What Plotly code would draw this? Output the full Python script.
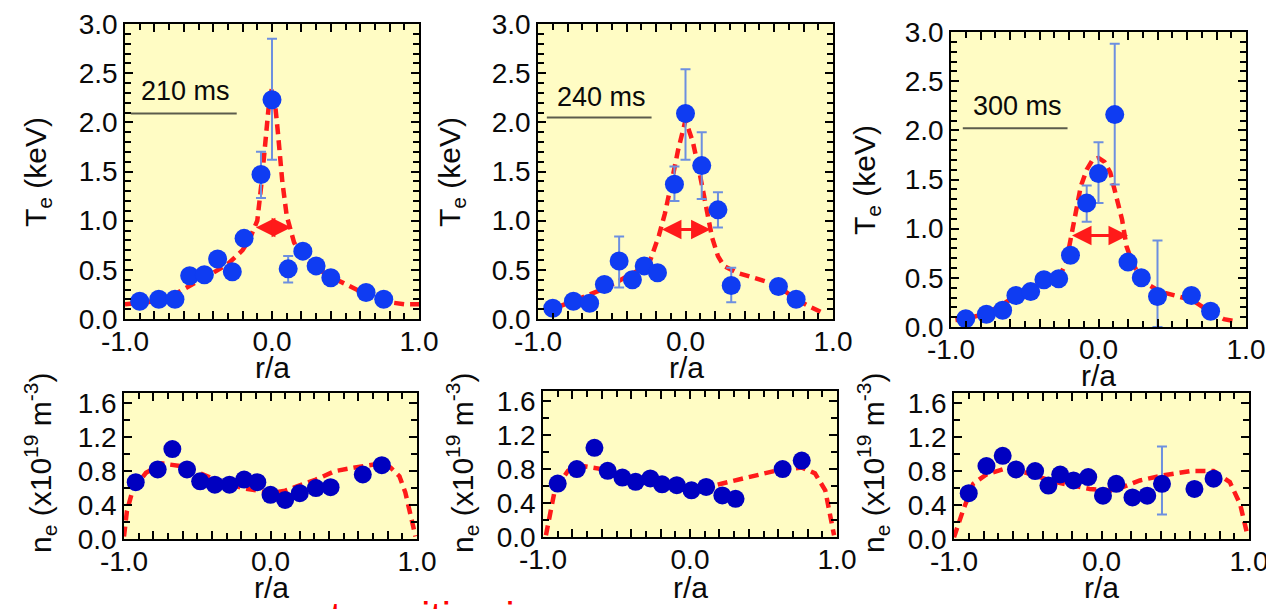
import plotly.graph_objects as go

# ---------------- data ----------------
x_tick_vals = [-1.0, -0.8, -0.6, -0.4, -0.2, 0.0, 0.2, 0.4, 0.6, 0.8, 1.0]
x_tick_text = ["-1.0", "", "", "", "", "0.0", "", "", "", "", "1.0"]
te_tick_vals = [0.0, 0.5, 1.0, 1.5, 2.0, 2.5, 3.0]
te_tick_text = ["0.0", "0.5", "1.0", "1.5", "2.0", "2.5", "3.0"]
ne_tick_vals = [0.0, 0.4, 0.8, 1.2, 1.6]
ne_tick_text = ["0.0", "0.4", "0.8", "1.2", "1.6"]

times = ["210 ms", "240 ms", "300 ms"]

# Te measured, 210 ms
te210_r = [-0.90, -0.77, -0.66, -0.56, -0.46, -0.37, -0.27, -0.19, -0.075, 0.0, 0.11, 0.21, 0.30, 0.40, 0.64, 0.76]
te210 = [0.18, 0.20, 0.20, 0.44, 0.45, 0.61, 0.48, 0.82, 1.47, 2.23, 0.51, 0.69, 0.54, 0.42, 0.27, 0.20]
te210_ep = [0, 0, 0, 0, 0, 0, 0, 0, 0.23, 0.62, 0.13, 0, 0, 0, 0, 0]
te210_em = [0, 0, 0, 0, 0, 0, 0, 0, 0.24, 0.61, 0.14, 0, 0, 0, 0, 0]
# Te measured, 240 ms
te240_r = [-0.90, -0.76, -0.65, -0.55, -0.45, -0.36, -0.28, -0.19, -0.075, 0.0, 0.11, 0.22, 0.31, 0.63, 0.75]
te240 = [0.11, 0.18, 0.16, 0.35, 0.59, 0.40, 0.54, 0.47, 1.37, 2.09, 1.56, 1.11, 0.34, 0.33, 0.20]
te240_ep = [0, 0, 0, 0, 0.25, 0, 0, 0, 0.18, 0.45, 0.34, 0.18, 0.18, 0, 0]
te240_em = [0, 0, 0, 0, 0.27, 0, 0, 0, 0.17, 0.47, 0.34, 0.18, 0.17, 0, 0]
# Te measured, 300 ms
te300_r = [-0.90, -0.76, -0.65, -0.56, -0.46, -0.37, -0.27, -0.19, -0.08, 0.0, 0.11, 0.20, 0.29, 0.40, 0.63, 0.76]
te300 = [0.085, 0.13, 0.17, 0.32, 0.36, 0.48, 0.49, 0.73, 1.26, 1.56, 2.16, 0.66, 0.50, 0.31, 0.32, 0.16]
te300_ep = [0, 0, 0, 0, 0, 0, 0, 0, 0.18, 0.32, 0.72, 0, 0, 0.57, 0.07, 0]
te300_em = [0, 0, 0, 0, 0, 0, 0, 0, 0.19, 0.30, 0.71, 0, 0, 0.31, 0.07, 0]

# Te fitted profiles (dashed red)
fit210_r = [-1.0, -0.9, -0.8, -0.7, -0.6, -0.5, -0.4, -0.3, -0.2, -0.15, -0.1, -0.07, -0.04, -0.02, 0.0,
            0.02, 0.04, 0.07, 0.1, 0.15, 0.2, 0.3, 0.4, 0.5, 0.6, 0.7, 0.8, 0.9, 1.0]
fit210 = [0.15, 0.16, 0.18, 0.22, 0.30, 0.38, 0.47, 0.56, 0.70, 0.82, 1.0, 1.4, 1.9, 2.2, 2.35,
          2.2, 1.9, 1.4, 1.05, 0.78, 0.64, 0.52, 0.43, 0.35, 0.28, 0.22, 0.17, 0.15, 0.15]
fit240_r = [-0.95, -0.85, -0.75, -0.65, -0.55, -0.45, -0.35, -0.25, -0.18, -0.14, -0.10, -0.05, 0.0,
            0.05, 0.10, 0.14, 0.18, 0.22, 0.26, 0.35, 0.45, 0.55, 0.65, 0.75, 0.85, 0.92]
fit240 = [0.07, 0.13, 0.19, 0.24, 0.31, 0.39, 0.47, 0.55, 0.85, 1.07, 1.35, 1.72, 2.02,
          1.80, 1.45, 1.15, 0.83, 0.64, 0.54, 0.47, 0.43, 0.38, 0.31, 0.20, 0.12, 0.07]
fit300_r = [-0.97, -0.88, -0.78, -0.68, -0.58, -0.48, -0.40, -0.32, -0.26, -0.22, -0.19, -0.15, -0.12, -0.08,
            -0.04, 0.0, 0.04, 0.08, 0.12, 0.16, 0.19, 0.23, 0.28, 0.35, 0.42, 0.53, 0.64, 0.76, 0.85, 0.92]
fit300 = [0.07, 0.09, 0.13, 0.20, 0.30, 0.37, 0.44, 0.49, 0.53, 0.65, 0.88, 1.20, 1.43, 1.60,
          1.70, 1.72, 1.68, 1.57, 1.35, 1.09, 0.82, 0.65, 0.52, 0.42, 0.36, 0.32, 0.27, 0.15, 0.08, 0.06]

# width arrows (r/a start, r/a end, Te level)
arrow_r0 = [-0.12, -0.17, -0.19]
arrow_r1 = [0.13, 0.17, 0.20]
arrow_te = [0.93, 0.91, 0.93]

# ne measured
ne210_r = [-0.92, -0.77, -0.67, -0.57, -0.48, -0.38, -0.28, -0.18, -0.09, 0.0, 0.10, 0.20, 0.31, 0.41, 0.63, 0.76]
ne210 = [0.67, 0.82, 1.06, 0.82, 0.68, 0.64, 0.64, 0.70, 0.67, 0.52, 0.46, 0.54, 0.60, 0.61, 0.76, 0.87]
ne240_r = [-0.90, -0.77, -0.65, -0.56, -0.46, -0.37, -0.27, -0.19, -0.09, 0.01, 0.11, 0.22, 0.31, 0.63, 0.76]
ne240 = [0.63, 0.80, 1.05, 0.78, 0.70, 0.65, 0.69, 0.62, 0.61, 0.55, 0.59, 0.49, 0.45, 0.80, 0.90]
ne300_r = [-0.90, -0.78, -0.67, -0.58, -0.45, -0.36, -0.28, -0.19, -0.09, 0.01, 0.10, 0.21, 0.31, 0.41, 0.63, 0.76]
ne300 = [0.54, 0.86, 0.98, 0.82, 0.80, 0.63, 0.76, 0.69, 0.73, 0.51, 0.65, 0.49, 0.51, 0.65, 0.59, 0.71]
ne300_ep = [0, 0, 0, 0, 0, 0, 0, 0, 0, 0, 0, 0, 0, 0.44, 0, 0]
ne300_em = [0, 0, 0, 0, 0, 0, 0, 0, 0, 0, 0, 0, 0, 0.36, 0, 0]

# ne fitted profiles
fitn210_r = [-1.0, -0.98, -0.94, -0.85, -0.74, -0.58, -0.38, -0.19, 0.01, 0.10, 0.31, 0.44, 0.60, 0.76, 0.82, 0.88, 0.92, 0.95, 0.99]
fitn210 = [0.03, 0.33, 0.58, 0.78, 0.89, 0.85, 0.70, 0.60, 0.54, 0.57, 0.70, 0.80, 0.85, 0.89, 0.84, 0.74, 0.55, 0.35, 0.03]
fitn240_r = [-0.98, -0.95, -0.92, -0.83, -0.74, -0.60, -0.37, -0.19, 0.01, 0.22, 0.40, 0.58, 0.76, 0.85, 0.92, 0.95, 0.98]
fitn240 = [0.02, 0.31, 0.55, 0.78, 0.84, 0.80, 0.67, 0.60, 0.54, 0.63, 0.71, 0.78, 0.82, 0.75, 0.55, 0.31, 0.02]
fitn300_r = [-1.0, -0.94, -0.87, -0.78, -0.67, -0.51, -0.31, -0.08, 0.08, 0.26, 0.42, 0.60, 0.76, 0.87, 0.94, 0.99]
fitn300 = [0.02, 0.33, 0.65, 0.76, 0.82, 0.78, 0.67, 0.59, 0.57, 0.69, 0.75, 0.80, 0.80, 0.67, 0.41, 0.04]

# ---------------- styling ----------------
W, H = 1266, 609
FONT = "Liberation Sans, Arial, Helvetica, sans-serif"
BG = "#fffcc4"
TE_BLUE = "#0f3cf2"
NE_BLUE = "#0000c0"
ERR = "#6d8fe0"
RED = "#ff1a1a"
TXT = "#0a0a0a"

def px_x(a, b):
    return [a / W, b / W]

def px_y(top, bottom):
    return [1 - bottom / H, 1 - top / H]

top_dom_x = [px_x(125, 419), px_x(538, 833), px_x(951, 1246)]
top_dom_y = [px_y(24, 319), px_y(24, 319), px_y(32, 327)]
bot_dom_x = [px_x(124, 417), px_x(543, 837), px_x(954, 1249)]
bot_dom_y = [px_y(393, 539), px_y(391, 537), px_y(393, 539)]

fig = go.Figure()

axis_common = dict(
    showline=True, linewidth=1.5, linecolor="black", mirror="ticks",
    ticks="inside", ticklen=8, tickwidth=1.5, tickcolor="black",
    showgrid=False, zeroline=False, automargin=False,
    tickfont=dict(family=FONT, size=28, color=TXT),
)
xaxis_extra = dict(ticklabeloverflow="allow", ticklabelstandoff=-3)
minor_x = dict(ticks="inside", dtick=0.1, tick0=0, ticklen=6, tickwidth=1.5, tickcolor="black", showgrid=False)

te_sets = [
    (te210_r, te210, te210_ep, te210_em, fit210_r, fit210),
    (te240_r, te240, te240_ep, te240_em, fit240_r, fit240),
    (te300_r, te300, te300_ep, te300_em, fit300_r, fit300),
]
ne_sets = [
    (ne210_r, ne210, None, None, fitn210_r, fitn210),
    (ne240_r, ne240, None, None, fitn240_r, fitn240),
    (ne300_r, ne300, ne300_ep, ne300_em, fitn300_r, fitn300),
]

layout_axes = {}
annotations = []
shapes = []

for i in range(3):
    nt = 2 * i + 1
    nb = 2 * i + 2
    xt, yt = f"x{nt}", f"y{nt}"
    xb, yb = f"x{nb}", f"y{nb}"
    kx = "xaxis" if nt == 1 else f"xaxis{nt}"
    ky = "yaxis" if nt == 1 else f"yaxis{nt}"
    layout_axes[kx] = dict(axis_common, **xaxis_extra, domain=top_dom_x[i], anchor=yt, range=[-1, 1],
                           tickvals=x_tick_vals, ticktext=x_tick_text, minor=minor_x)
    layout_axes[ky] = dict(axis_common, domain=top_dom_y[i], anchor=xt, range=[0, 3.0],
                           tickvals=te_tick_vals, ticktext=te_tick_text,
                           minor=dict(ticks="inside", dtick=0.1, tick0=0, ticklen=6, tickwidth=1.5,
                                      tickcolor="black", showgrid=False))
    layout_axes[f"xaxis{nb}"] = dict(axis_common, **xaxis_extra, domain=bot_dom_x[i], anchor=yb, range=[-1, 1],
                                     tickvals=x_tick_vals, ticktext=x_tick_text, minor=minor_x)
    layout_axes[f"yaxis{nb}"] = dict(axis_common, domain=bot_dom_y[i], anchor=xb, range=[0, 1.72],
                                     tickvals=ne_tick_vals, ticktext=ne_tick_text,
                                     minor=dict(ticks="inside", dtick=0.2, tick0=0, ticklen=6, tickwidth=1.5,
                                                tickcolor="black", showgrid=False))

    # --- Te panel ---
    r, v, ep, em, fr, fv = te_sets[i]
    fig.add_trace(go.Scatter(x=fr, y=fv, mode="lines", xaxis=xt, yaxis=yt,
                             line=dict(color=RED, width=4.5, dash="10px,6px"), showlegend=False))
    fig.add_trace(go.Scatter(x=r, y=v, mode="markers", xaxis=xt, yaxis=yt,
                             marker=dict(color=TE_BLUE, size=19),
                             error_y=dict(type="data", symmetric=False, array=ep, arrayminus=em,
                                          color=ERR, thickness=2, width=5),
                             showlegend=False))
    annotations.append(dict(x=arrow_r1[i], y=arrow_te[i], ax=arrow_r0[i], ay=arrow_te[i],
                            xref=xt, yref=yt, axref=xt, ayref=yt, text="", showarrow=True,
                            arrowhead=2, startarrowhead=2, arrowside="end+start",
                            arrowsize=1.3, startarrowsize=1.3, arrowwidth=3, arrowcolor=RED))

    # --- ne panel ---
    r, v, ep, em, fr, fv = ne_sets[i]
    fig.add_trace(go.Scatter(x=fr, y=fv, mode="lines", xaxis=xb, yaxis=yb,
                             line=dict(color=RED, width=4.5, dash="10px,6px"), showlegend=False))
    err = None
    if ep is not None:
        err = dict(type="data", symmetric=False, array=ep, arrayminus=em, color=ERR, thickness=2, width=5)
    fig.add_trace(go.Scatter(x=r, y=v, mode="markers", xaxis=xb, yaxis=yb,
                             marker=dict(color=NE_BLUE, size=18), error_y=err, showlegend=False))

# time labels and underline
label_pos = [(-0.59, 2.32, -0.96, -0.24, 2.09), (-0.57, 2.26, -0.94, -0.23, 2.05), (-0.55, 2.25, -0.92, -0.21, 2.02)]
for i in range(3):
    nt = 2 * i + 1
    cx, cy, l0, l1, ly = label_pos[i]
    annotations.append(dict(x=cx, y=cy, xref=f"x{nt}", yref=f"y{nt}", text=times[i], showarrow=False,
                            xanchor="center", yanchor="middle",
                            font=dict(family=FONT, size=27, color=TXT)))
    shapes.append(dict(type="line", x0=l0, x1=l1, y0=ly, y1=ly, xref=f"x{nt}", yref=f"y{nt}",
                       line=dict(color="#5c5c4c", width=2)))

def pax(x):
    return x / W

def pay(y):
    return 1 - y / H

te_title_pos = [(37, 172), (451, 172), (866, 180)]
ne_title_pos = [(40, 463), (462, 463), (873, 463)]
ra_top = [(272, 367), (686, 367), (1098, 375)]
ra_bot = [(271, 587), (690, 587), (1101, 587)]
for i in range(3):
    annotations.append(dict(x=pax(te_title_pos[i][0]), y=pay(te_title_pos[i][1]), xref="paper", yref="paper",
                            xanchor="center", yanchor="middle",
                            text="T<sub>e</sub> (keV)", textangle=-90, showarrow=False,
                            font=dict(family=FONT, size=30, color=TXT)))
    annotations.append(dict(x=pax(ne_title_pos[i][0]), y=pay(ne_title_pos[i][1]), xref="paper", yref="paper",
                            xanchor="center", yanchor="middle",
                            text="n<sub>e</sub> (x10<sup>19</sup> m<sup>-3</sup>)", textangle=-90, showarrow=False,
                            font=dict(family=FONT, size=30, color=TXT)))
    annotations.append(dict(x=pax(ra_top[i][0]), y=pay(ra_top[i][1]), xref="paper", yref="paper",
                            xanchor="center", yanchor="middle",
                            text="r/a", showarrow=False, font=dict(family=FONT, size=30, color=TXT)))
    annotations.append(dict(x=pax(ra_bot[i][0]), y=pay(ra_bot[i][1]), xref="paper", yref="paper",
                            xanchor="center", yanchor="middle",
                            text="r/a", showarrow=False, font=dict(family=FONT, size=30, color=TXT)))

# red caption, mostly cut off at the bottom edge
annotations.append(dict(x=pax(328), y=pay(617), xref="paper", yref="paper", xanchor="left", yanchor="middle",
                        text="transitive increase", showarrow=False,
                        font=dict(family=FONT, size=41, color="#ff0000")))

fig.update_layout(
    width=W, height=H, margin=dict(l=0, r=0, t=0, b=0, autoexpand=False),
    paper_bgcolor="white", plot_bgcolor=BG,
    annotations=annotations, shapes=shapes, showlegend=False,
    **layout_axes,
)

fig.write_html("out.html", config={"displayModeBar": False},
               post_script="document.body.style.margin='0';")
